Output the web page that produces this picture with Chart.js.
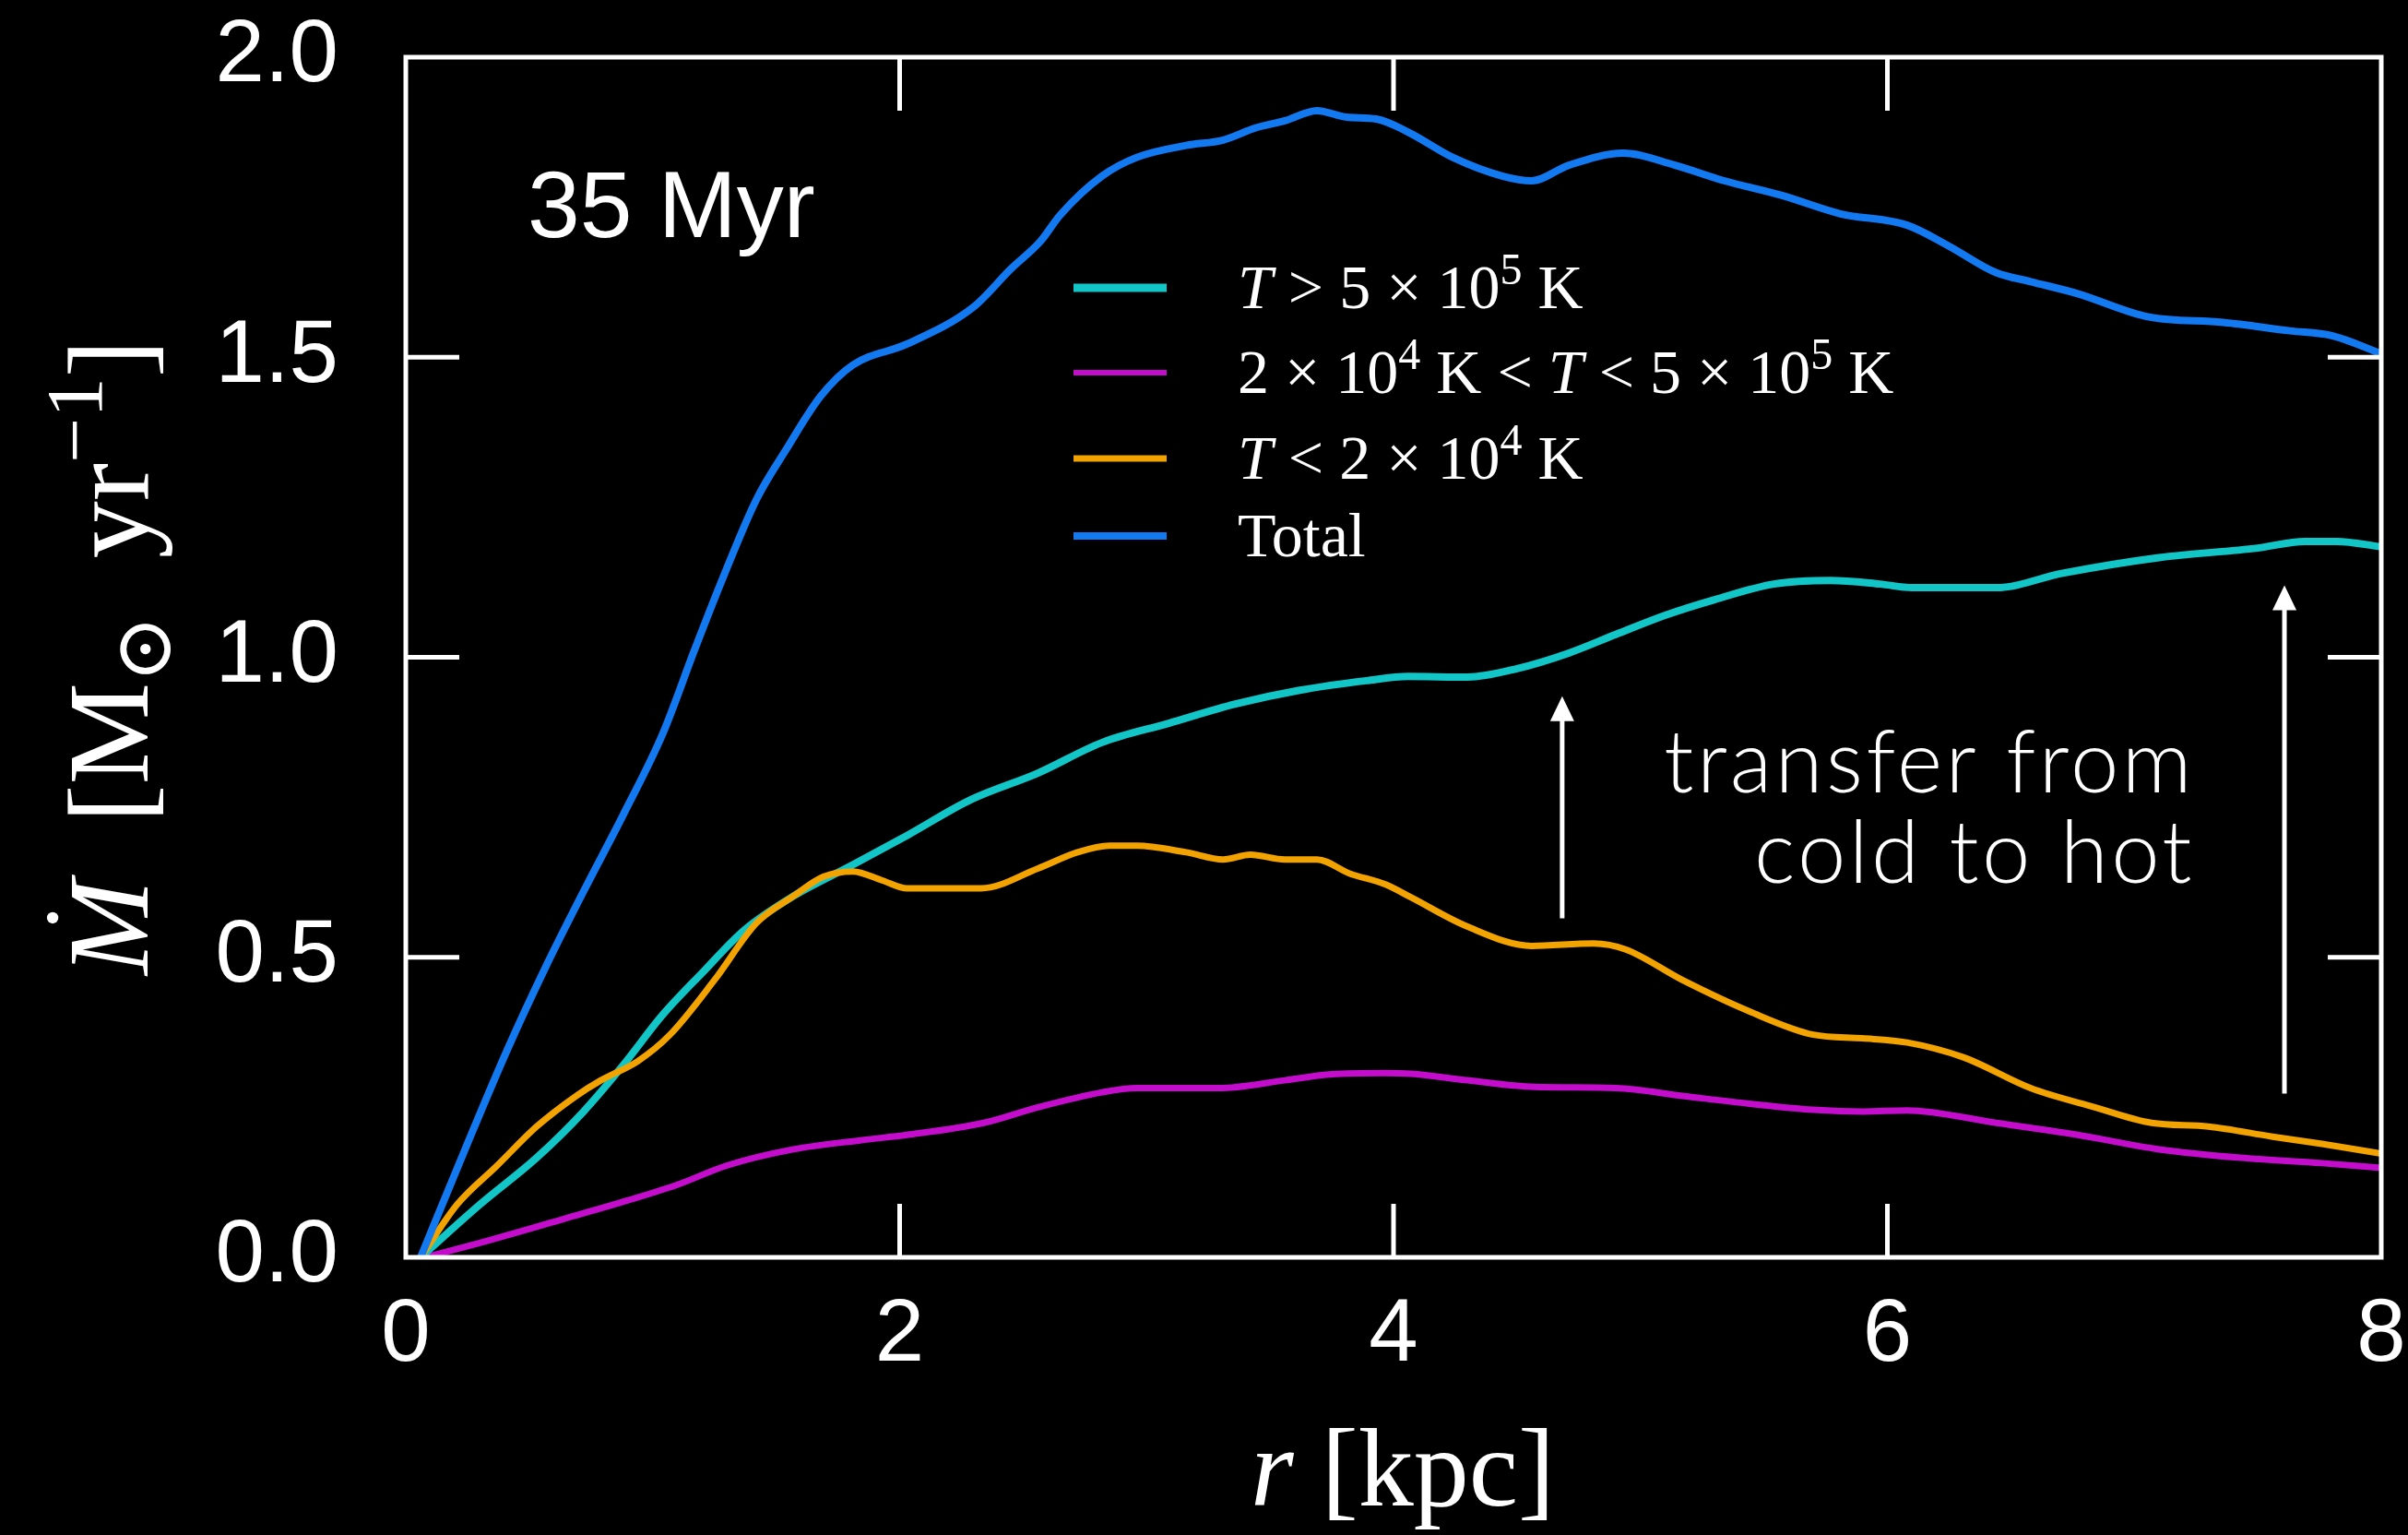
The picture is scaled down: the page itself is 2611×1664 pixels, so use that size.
<!DOCTYPE html>
<html>
<head>
<meta charset="utf-8">
<script src="https://cdn.jsdelivr.net/npm/chart.js@4.4.0/dist/chart.umd.min.js"></script>
<style>
  html, body { margin: 0; padding: 0; background: #000; }
  canvas { display: block; }
</style>
</head>
<body>
<canvas id="chart" width="2611" height="1664" style="width:2611px;height:1664px"></canvas>
<script>
// radius [kpc] and mass flux [Msun/yr]
const totalR = [0.06, 0.24, 0.41, 0.57, 0.72, 0.88, 1.04, 1.17, 1.28, 1.42, 1.54, 1.68, 1.81, 2.03, 2.30, 2.45, 2.57, 2.65, 2.82, 2.96, 3.16, 3.31, 3.44, 3.56, 3.69, 3.81, 3.93, 4.06, 4.24, 4.44, 4.56, 4.71, 4.93, 5.14, 5.34, 5.57, 5.81, 6.08, 6.25, 6.44, 6.58, 6.77, 7.06, 7.36, 7.63, 7.80, 8.0];
const totalM = [0, 0.18, 0.345, 0.487, 0.61, 0.737, 0.872, 1.013, 1.128, 1.263, 1.346, 1.435, 1.487, 1.522, 1.584, 1.647, 1.693, 1.737, 1.802, 1.833, 1.853, 1.862, 1.882, 1.894, 1.911, 1.90, 1.897, 1.875, 1.833, 1.802, 1.794, 1.820, 1.840, 1.820, 1.794, 1.770, 1.739, 1.72, 1.685, 1.641, 1.626, 1.606, 1.567, 1.558, 1.544, 1.536, 1.506];

const hotR = [0.06, 0.30, 0.53, 0.72, 0.88, 1.04, 1.20, 1.37, 1.57, 1.81, 2.03, 2.29, 2.56, 2.82, 3.09, 3.36, 3.62, 3.89, 4.06, 4.30, 4.50, 4.71, 4.90, 5.10, 5.30, 5.54, 5.77, 5.97, 6.10, 6.44, 6.71, 7.10, 7.50, 7.69, 7.82, 8.0];
const hotM = [0, 0.088, 0.166, 0.243, 0.32, 0.404, 0.474, 0.545, 0.602, 0.654, 0.703, 0.763, 0.807, 0.858, 0.89, 0.922, 0.945, 0.961, 0.968, 0.967, 0.981, 1.007, 1.038, 1.07, 1.096, 1.122, 1.128, 1.122, 1.116, 1.116, 1.14, 1.166, 1.182, 1.193, 1.193, 1.184];

const warmR = [0.08, 0.37, 0.64, 0.90, 1.10, 1.30, 1.57, 1.84, 2.03, 2.34, 2.56, 2.82, 2.96, 3.29, 3.56, 3.75, 3.96, 4.07, 4.30, 4.57, 4.90, 5.17, 5.44, 5.70, 5.90, 6.08, 6.44, 6.77, 7.10, 7.43, 7.76, 8.0];
const warmM = [0, 0.032, 0.064, 0.095, 0.121, 0.153, 0.18, 0.195, 0.204, 0.224, 0.25, 0.275, 0.282, 0.282, 0.295, 0.305, 0.307, 0.306, 0.295, 0.284, 0.282, 0.269, 0.256, 0.246, 0.243, 0.245, 0.224, 0.204, 0.18, 0.166, 0.157, 0.149];

const coldR = [0.06, 0.21, 0.37, 0.53, 0.69, 0.79, 0.94, 1.07, 1.25, 1.42, 1.57, 1.69, 1.81, 1.93, 2.03, 2.33, 2.56, 2.72, 2.85, 2.96, 3.16, 3.31, 3.42, 3.56, 3.69, 3.82, 3.97, 4.07, 4.30, 4.56, 4.81, 4.94, 5.17, 5.44, 5.70, 5.90, 6.08, 6.31, 6.58, 6.84, 7.07, 7.30, 7.56, 7.76, 8.0];
const coldM = [0, 0.089, 0.153, 0.218, 0.269, 0.295, 0.327, 0.371, 0.462, 0.557, 0.602, 0.634, 0.643, 0.628, 0.615, 0.615, 0.648, 0.675, 0.686, 0.686, 0.675, 0.663, 0.671, 0.663, 0.663, 0.64, 0.621, 0.60, 0.551, 0.519, 0.523, 0.513, 0.462, 0.41, 0.371, 0.365, 0.358, 0.333, 0.282, 0.25, 0.224, 0.218, 0.201, 0.189, 0.173];

const xTicks = [0, 2, 4, 6, 8];
const yTicks = [0.0, 0.5, 1.0, 1.5, 2.0];

const COLORS = { hot: '#12c6c8', warm: '#c40ccc', cold: '#f2a300', total: '#1279f0' };

const sans = '"Liberation Sans", Arial, sans-serif';
const serif = '"Liberation Serif", "DejaVu Serif", serif';

function pts(rs, ms) {
  return rs.map((r, i) => ({ x: r, y: ms[i] }));
}

// draw a row of text pieces (font + vertical shift) one after the other
function runsWidth(ctx, runs) {
  let w = 0;
  runs.forEach(r => { ctx.font = r.font; w += ctx.measureText(r.t).width; });
  return w;
}
function drawRuns(ctx, runs, x, y) {
  runs.forEach(r => {
    ctx.font = r.font;
    ctx.fillText(r.t, x, y + (r.dy || 0));
    if (r.dot) {
      const w = ctx.measureText(r.t).width;
      ctx.beginPath();
      ctx.arc(x + w * 0.6, y - r.size * 0.83, r.size * 0.05, 0, Math.PI * 2);
      ctx.fill();
    }
    x += ctx.measureText(r.t).width;
  });
}

function arrow(ctx, x, y0, y1) {
  ctx.beginPath();
  ctx.moveTo(x, y0);
  ctx.lineTo(x, y1 + 20);
  ctx.stroke();
  ctx.beginPath();
  ctx.moveTo(x, y1);
  ctx.lineTo(x - 13, y1 + 27);
  ctx.lineTo(x + 13, y1 + 27);
  ctx.closePath();
  ctx.fill();
}

const background = {
  id: 'background',
  beforeDraw(chart) {
    const ctx = chart.ctx;
    ctx.save();
    ctx.fillStyle = '#000';
    ctx.fillRect(0, 0, chart.width, chart.height);
    ctx.restore();
  }
};

const decorations = {
  id: 'decorations',
  afterDraw(chart) {
    const ctx = chart.ctx;
    const { left, right, top, bottom } = chart.chartArea;
    const xs = chart.scales.x, ys = chart.scales.y;
    ctx.save();
    ctx.strokeStyle = '#fff';
    ctx.fillStyle = '#fff';

    // frame and inward ticks
    ctx.lineWidth = 5;
    ctx.strokeRect(left, top, right - left, bottom - top);
    const tl = 58;
    ctx.beginPath();
    xTicks.slice(1, -1).forEach(v => {
      const px = xs.getPixelForValue(v);
      ctx.moveTo(px, bottom); ctx.lineTo(px, bottom - tl);
      ctx.moveTo(px, top); ctx.lineTo(px, top + tl);
    });
    yTicks.slice(1, -1).forEach(v => {
      const py = ys.getPixelForValue(v);
      ctx.moveTo(left, py); ctx.lineTo(left + tl, py);
      ctx.moveTo(right, py); ctx.lineTo(right - tl, py);
    });
    ctx.stroke();

    // legend
    const F = 68;
    const reg = `${F}px ${serif}`, it = `italic ${F}px ${serif}`, sup = `${Math.round(F * 0.7)}px ${serif}`;
    const sdy = -F * 0.38;
    const rows = [
      { c: COLORS.hot, lw: 9, y: 312, runs: [{ t: 'T', font: it }, { t: ' > 5 × 10', font: reg }, { t: '5', font: sup, dy: sdy }, { t: ' K', font: reg }] },
      { c: COLORS.warm, lw: 6, y: 404, runs: [{ t: '2 × 10', font: reg }, { t: '4', font: sup, dy: sdy }, { t: ' K < ', font: reg }, { t: 'T', font: it }, { t: ' < 5 × 10', font: reg }, { t: '5', font: sup, dy: sdy }, { t: ' K', font: reg }] },
      { c: COLORS.cold, lw: 7, y: 497, runs: [{ t: 'T', font: it }, { t: ' < 2 × 10', font: reg }, { t: '4', font: sup, dy: sdy }, { t: ' K', font: reg }] },
      { c: COLORS.total, lw: 8, y: 581, runs: [{ t: 'Total', font: reg }] }
    ];
    ctx.textBaseline = 'alphabetic';
    ctx.textAlign = 'left';
    rows.forEach(row => {
      ctx.strokeStyle = row.c;
      ctx.lineWidth = row.lw;
      ctx.beginPath();
      ctx.moveTo(1164, row.y); ctx.lineTo(1265, row.y);
      ctx.stroke();
      ctx.fillStyle = '#fff';
      drawRuns(ctx, row.runs, 1342, row.y + 22);
    });

    // time label
    ctx.fillStyle = '#fff';
    ctx.font = `102px ${sans}`;
    ctx.fillText('35 Myr', 572, 257);

    // axis titles
    const T = 120;
    const tReg = `${T}px ${serif}`, tIt = `italic ${T}px ${serif}`;
    const xRuns = [{ t: 'r', font: tIt }, { t: ' [kpc]', font: tReg }];
    const xw = runsWidth(ctx, xRuns);
    drawRuns(ctx, xRuns, (left + right) / 2 - xw / 2 + 10, 1632);

    const Y = 124;
    const yReg = `${Y}px ${serif}`, yIt = `italic ${Y}px ${serif}`, ySmall = `${Math.round(Y * 0.7)}px ${serif}`;
    const yRuns = [
      { t: 'M', font: yIt, dot: true, size: Y },
      { t: '  [M', font: yReg },
      { t: '⊙', font: ySmall, dy: Y * 0.2 },
      { t: '  yr', font: yReg },
      { t: '−1', font: ySmall, dy: -Y * 0.4 },
      { t: ']', font: yReg }
    ];
    const yw = runsWidth(ctx, yRuns);
    ctx.save();
    ctx.translate(160, (top + bottom) / 2);
    ctx.rotate(-Math.PI / 2);
    drawRuns(ctx, yRuns, -yw / 2, 0);
    ctx.restore();

    // arrows and note
    ctx.strokeStyle = '#fff';
    ctx.fillStyle = '#fff';
    ctx.lineWidth = 5;
    arrow(ctx, xs.getPixelForValue(4.683), ys.getPixelForValue(0.565), ys.getPixelForValue(0.935));
    arrow(ctx, xs.getPixelForValue(7.608), ys.getPixelForValue(0.273), ys.getPixelForValue(1.12));

    ctx.font = `300 94px Lato, "Open Sans", sans-serif`;
    ctx.letterSpacing = '3.5px';
    ctx.textAlign = 'right';
    ctx.fillText('transfer from', 2380, 859);
    ctx.fillText('cold to hot', 2380, 957);
    ctx.letterSpacing = '0px';

    ctx.restore();
  }
};

const line = (label, rs, ms, color, width, order) => ({
  label,
  data: pts(rs, ms),
  borderColor: color,
  borderWidth: width,
  pointRadius: 0,
  fill: false,
  cubicInterpolationMode: 'monotone',
  order
});

new Chart(document.getElementById('chart'), {
  type: 'line',
  data: {
    datasets: [
      line('T > 5e5 K', hotR, hotM, COLORS.hot, 8, 2),
      line('2e4 K < T < 5e5 K', warmR, warmM, COLORS.warm, 7, 3),
      line('T < 2e4 K', coldR, coldM, COLORS.cold, 7, 1),
      line('Total', totalR, totalM, COLORS.total, 8, 0)
    ]
  },
  options: {
    responsive: false,
    devicePixelRatio: 1,
    animation: false,
    layout: { padding: { top: 62, right: 29, left: 0, bottom: 0 } },
    plugins: { legend: { display: false }, tooltip: { enabled: false } },
    scales: {
      x: {
        type: 'linear',
        min: 0,
        max: 8,
        grid: { display: false, drawTicks: false },
        border: { display: false },
        ticks: {
          stepSize: 2,
          color: '#fff',
          padding: 28,
          font: { family: sans, size: 96 },
          callback: v => String(v)
        },
        afterFit: s => {
          s.height = 301;
          s.paddingLeft = 0; s.paddingRight = 0;
        }
      },
      y: {
        min: 0,
        max: 2,
        grid: { display: false, drawTicks: false },
        border: { display: false },
        ticks: {
          stepSize: 0.5,
          color: '#fff',
          padding: 73,
          font: { family: sans, size: 96 },
          callback: v => v.toFixed(1)
        },
        afterFit: s => {
          s.width = 440;
          s.paddingTop = 0; s.paddingBottom = 0;
        }
      }
    }
  },
  plugins: [background, decorations]
});
</script>
</body>
</html>
